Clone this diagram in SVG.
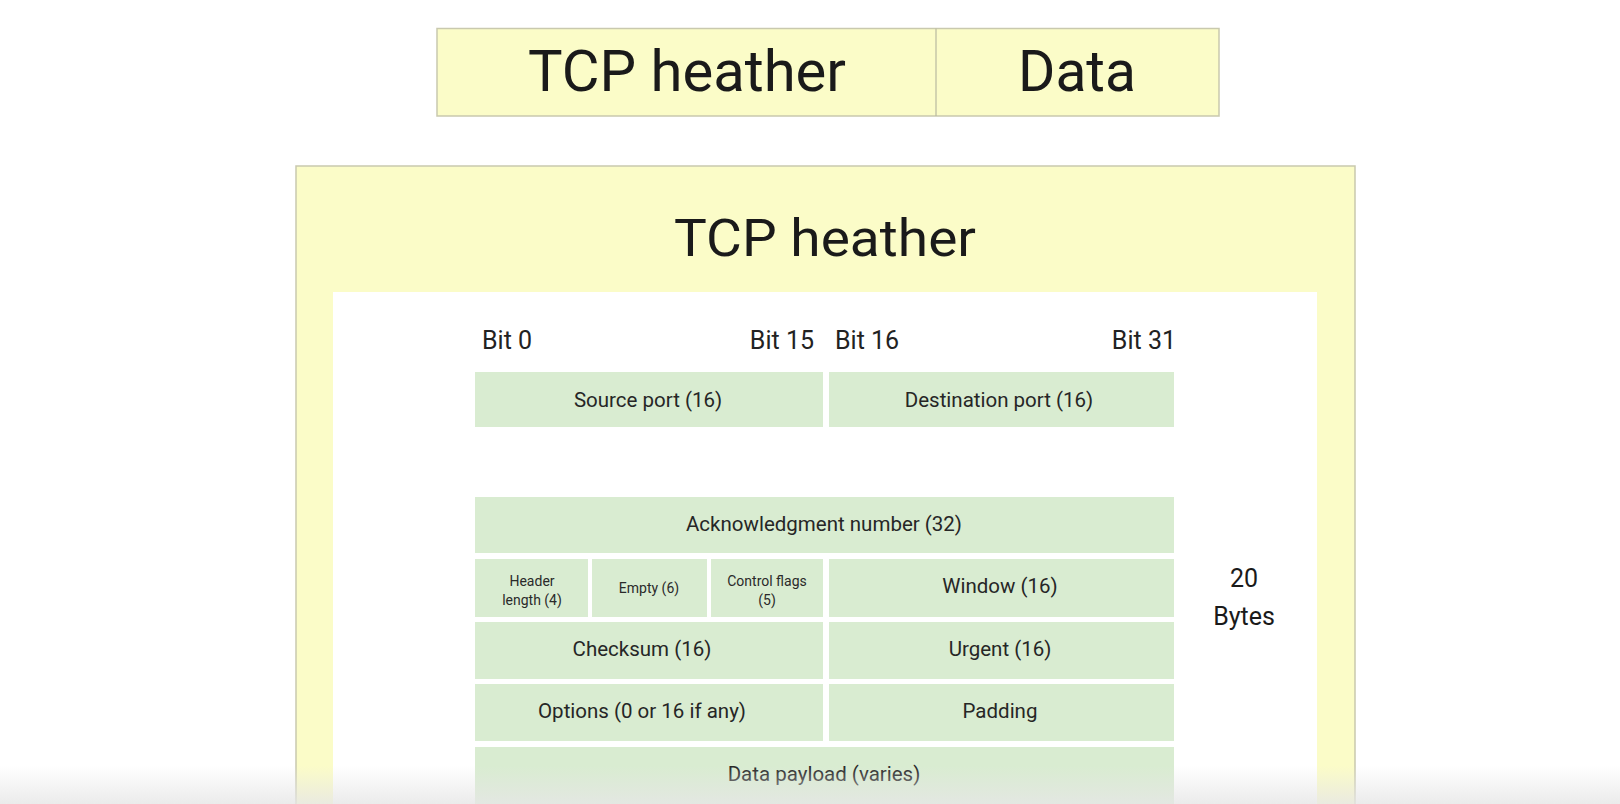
<svg xmlns="http://www.w3.org/2000/svg" width="1620" height="804" viewBox="0 0 1620 804">
<style>
.yel{fill:#fbfcc8;stroke:#c9c9ae;stroke-width:1.5}
.cell{fill:#d9ecd1}
.t{font-family:Roboto,"Liberation Sans",sans-serif;fill:#1a1a1a;text-anchor:middle}
.big{font-size:58px}
.bit{font-size:25px;fill:#222}
.c{font-size:20.5px;fill:#262626}
.s{font-size:14px;fill:#2a2a2a}
</style>
<defs>
<linearGradient id="fade" x1="0" y1="0" x2="0" y2="1">
<stop offset="0" stop-color="#e6e6e6" stop-opacity="0"/>
<stop offset="1" stop-color="#e6e6e6" stop-opacity="0.8"/>
</linearGradient>
</defs>
<rect width="1620" height="804" fill="#ffffff"/>
<g id="packet">
<rect class="yel" x="437" y="28.5" width="782" height="87.5"/>
<line x1="936" y1="28.5" x2="936" y2="116" stroke="#b9b9a0" stroke-width="1.2"/>
<text class="t big" x="687" y="91" textLength="318" lengthAdjust="spacingAndGlyphs">TCP heather</text>
<text class="t big" x="1077" y="91" textLength="118" lengthAdjust="spacingAndGlyphs">Data</text>
</g>
<g id="header-panel">
<rect class="yel" x="296" y="166" width="1059" height="660"/>
<text class="t" x="825" y="256" font-size="52" textLength="302" lengthAdjust="spacingAndGlyphs">TCP heather</text>
<rect x="333" y="292" width="984" height="520" fill="#ffffff"/>
</g>
<g id="bits">
<text class="t bit" x="482" y="349" style="text-anchor:start">Bit 0</text>
<text class="t bit" x="814" y="349" style="text-anchor:end">Bit 15</text>
<text class="t bit" x="835" y="349" style="text-anchor:start">Bit 16</text>
<text class="t bit" x="1176" y="349" style="text-anchor:end">Bit 31</text>
</g>
<g id="source-port"><rect class="cell" x="475" y="372" width="348" height="55"/><text class="t c" x="648" y="407">Source port (16)</text></g>
<g id="destination-port"><rect class="cell" x="829" y="372" width="345" height="55"/><text class="t c" x="999" y="407">Destination port (16)</text></g>
<g id="ack-number"><rect class="cell" x="475" y="497" width="699" height="56"/><text class="t c" x="824" y="531">Acknowledgment number (32)</text></g>
<g id="header-length"><rect class="cell" x="475" y="559" width="113" height="58"/><text class="t s" x="532" y="586">Header</text><text class="t s" x="532" y="605">length (4)</text></g>
<g id="empty"><rect class="cell" x="592" y="559" width="115" height="58"/><text class="t s" x="649" y="593">Empty (6)</text></g>
<g id="control-flags"><rect class="cell" x="711" y="559" width="112" height="58"/><text class="t s" x="767" y="586">Control flags</text><text class="t s" x="767" y="605">(5)</text></g>
<g id="window"><rect class="cell" x="829" y="559" width="345" height="58"/><text class="t c" x="1000" y="593">Window (16)</text></g>
<g id="checksum"><rect class="cell" x="475" y="622" width="348" height="57"/><text class="t c" x="642" y="656">Checksum (16)</text></g>
<g id="urgent"><rect class="cell" x="829" y="622" width="345" height="57"/><text class="t c" x="1000" y="656">Urgent (16)</text></g>
<g id="options"><rect class="cell" x="475" y="684" width="348" height="57"/><text class="t c" x="642" y="718">Options (0 or 16 if any)</text></g>
<g id="padding"><rect class="cell" x="829" y="684" width="345" height="57"/><text class="t c" x="1000" y="718">Padding</text></g>
<g id="data-payload"><rect class="cell" x="475" y="747" width="699" height="70"/><text class="t c" x="824" y="781">Data payload (varies)</text></g>
<g id="bytes-label">
<text class="t" x="1244" y="587" font-size="25">20</text>
<text class="t" x="1244" y="625" font-size="25">Bytes</text>
</g>
<rect x="0" y="766" width="1620" height="38" fill="url(#fade)"/>
</svg>
